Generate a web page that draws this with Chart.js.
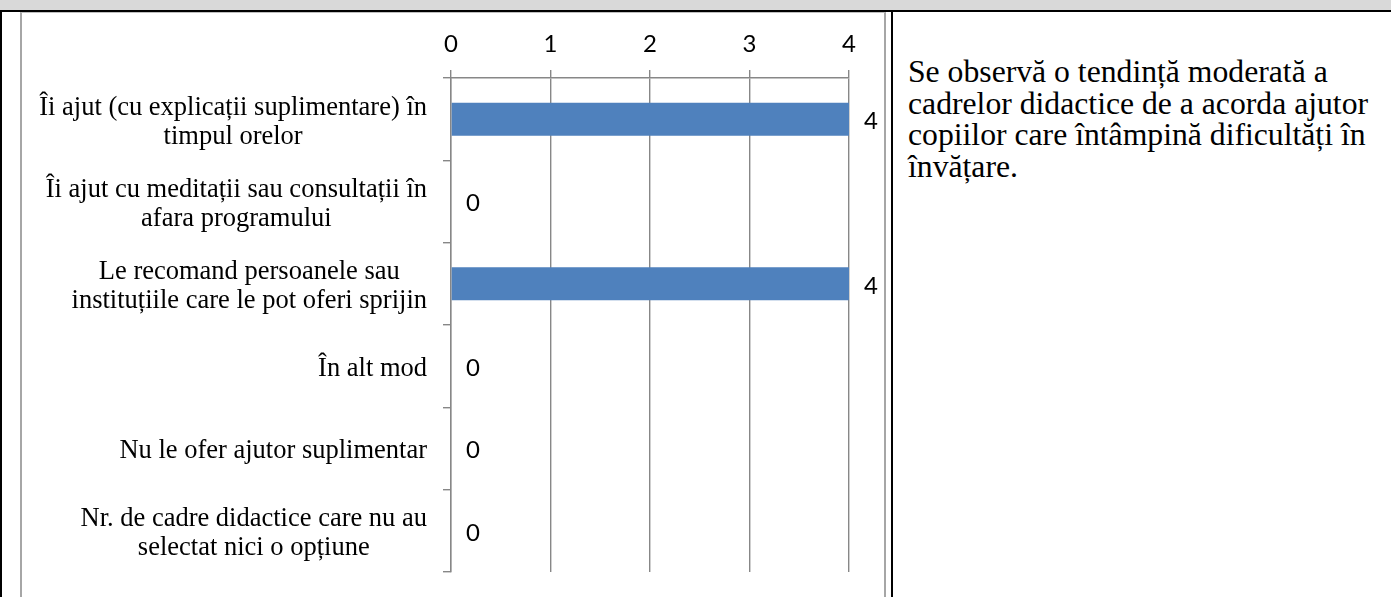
<!DOCTYPE html>
<html>
<head>
<meta charset="utf-8">
<script src="https://cdn.jsdelivr.net/npm/chart.js@4.4.1/dist/chart.umd.min.js"></script>
<style>
  html, body { margin: 0; padding: 0; background: #fff; }
  body { width: 1391px; height: 597px; position: relative; overflow: hidden; }
  #head { position: absolute; left: 0; top: 0; width: 1391px; height: 10px; background: #d9d9d9; border-bottom: 2px solid #000; }
  #leftLine { position: absolute; left: 0; top: 10px; width: 2px; height: 600px; background: #000; }
  #midLine { position: absolute; left: 891px; top: 10px; width: 2px; height: 600px; background: #000; }
  #frame { position: absolute; left: 20px; top: 12px; width: 862px; height: 600px;
           border-left: 2px solid #a6a6a6; border-right: 2px solid #a6a6a6; border-top: 1px solid #bfbfbf; }
  #wrap { position: absolute; left: 22px; top: 13px; width: 862px; height: 584px; }
  #note { position: absolute; left: 908px; top: 56px; width: 480px;
          font-family: "Liberation Serif", "Times New Roman", serif; font-size: 31.7px; line-height: 31.5px; color: #000; }
</style>
</head>
<body>
<div id="head"></div>
<div id="leftLine"></div>
<div id="midLine"></div>
<div id="frame"></div>
<div id="wrap"><canvas id="chart" width="862" height="584"></canvas></div>
<div id="note">Se observă o tendință moderată a<br>cadrelor didactice de a acorda ajutor<br>copiilor care întâmpină dificultăți în<br>învățare.</div>

<script>
// date
const categories = [
    ['Îi ajut (cu explicații suplimentare) în', 'timpul orelor'],
    ['Îi ajut cu meditații sau consultații în', 'afara programului'],
    ['Le recomand persoanele sau', 'instituțiile care le pot oferi sprijin'],
    ['În alt mod'],
    ['Nu le ofer ajutor suplimentar'],
    ['Nr. de cadre didactice care nu au', 'selectat nici o opțiune']
];
const counts = [4, 0, 4, 0, 0, 0];
const xTicks = [0, 1, 2, 3, 4];

const gridGray = '#878787';
const numFont = 'Lato, "Open Sans", sans-serif';

// etichete pe axa Y (centrate intre ele, aliniate la dreapta) + valorile barelor
const rowLabels = {
    id: 'rowLabels',
    afterDraw(chart) {
        const ctx = chart.ctx;
        const xs = chart.scales.x;
        const ys = chart.scales.y;
        ctx.save();
        ctx.fillStyle = '#000';
        ctx.textBaseline = 'middle';
        ctx.textAlign = 'center';
        ctx.font = '26.5px "Liberation Serif"';
        categories.forEach((lines, i) => {
            const cy = ys.getPixelForValue(i);
            const widest = Math.max(...lines.map(l => ctx.measureText(l).width));
            const cx = chart.chartArea.left - 24 - widest / 2;
            lines.forEach((l, k) => {
                ctx.fillText(l, cx, cy + (k - (lines.length - 1) / 2) * 29 + 3);
            });
        });
        ctx.font = '24px ' + numFont;
        ctx.textAlign = 'left';
        counts.forEach((v, i) => {
            ctx.fillText(String(v), xs.getPixelForValue(v) + 15, ys.getPixelForValue(i) + 2);
        });
        ctx.restore();
    }
};

new Chart(document.getElementById('chart'), {
    type: 'bar',
    data: {
        labels: categories,
        datasets: [{
            data: counts,
            backgroundColor: '#4f81bd',
            borderWidth: 0,
            barPercentage: 0.4,
            categoryPercentage: 1.0
        }]
    },
    options: {
        indexAxis: 'y',
        responsive: false,
        animation: false,
        layout: { padding: { left: 0, right: 35, top: 0, bottom: 25 } },
        plugins: { legend: { display: false }, tooltip: { enabled: false } },
        scales: {
            x: {
                position: 'top',
                min: 0,
                max: 4,
                afterBuildTicks: (scale) => { scale.ticks = xTicks.map(v => ({ value: v })); },
                afterFit: (scale) => { scale.height = 65; },
                grid: { color: gridGray, lineWidth: 1.4, tickLength: 8, drawTicks: true },
                border: { color: gridGray, width: 1.4 },
                ticks: { color: '#000', font: { family: numFont, size: 24 }, padding: 11 }
            },
            y: {
                afterFit: (scale) => { scale.width = 429; },
                grid: { drawOnChartArea: false, color: gridGray, lineWidth: 1.4, tickLength: 8, offset: true },
                border: { color: gridGray, width: 1.4 },
                ticks: { display: false }
            }
        }
    },
    plugins: [rowLabels]
});
</script>
</body>
</html>
